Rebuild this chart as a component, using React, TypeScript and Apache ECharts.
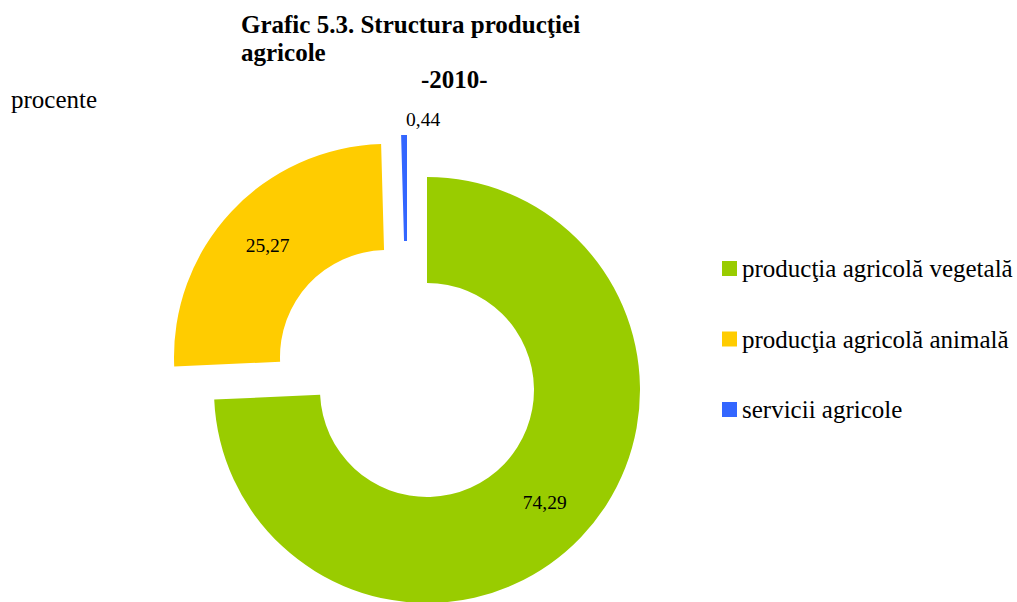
import React, { useEffect, useRef } from "react";
import * as echarts from "echarts";

const categories = ["producţia agricolă vegetală", "producţia agricolă animală", "servicii agricole"];
const values = [74.29, 25.27, 0.44];
const colors = ["#99CC00", "#FFCC00", "#3366FF"];
const titleLines = ["Grafic 5.3. Structura producţiei", "agricole"];
const yearLabel = "-2010-";
const unitLabel = "procente";

const fmt = (v: number) => v.toFixed(2).replace(".", ",");
const FONT = "'Liberation Serif', 'Times New Roman', serif";

// each slice is drawn by its own series so it can be exploded independently
const centers: [number, number][] = [
  [427, 390],
  [387, 357],
  [407, 348],
];

export default function App() {
  const ref = useRef<HTMLDivElement>(null);
  useEffect(() => {
    if (!ref.current) return;
    const chart = echarts.init(ref.current, undefined, { renderer: "svg" });
    const series = centers.map((c, i) => ({
      type: "pie",
      center: c,
      radius: [107, 213],
      startAngle: 90,
      clockwise: true,
      silent: true,
      avoidLabelOverlap: false,
      labelLine: { show: false },
      emphasis: { disabled: true },
      label: {
        position: "inside",
        fontFamily: FONT,
        fontSize: 19.5,
        color: "#000",
      },
      data: categories.map((name, j) => ({
        name,
        value: values[j],
        itemStyle: { color: j === i ? colors[j] : "transparent", borderWidth: 0 },
        label: {
          show: j === i && i < 2,
          formatter: () => fmt(values[j]),
        },
      })),
    }));
    chart.setOption({
      animation: false,
      backgroundColor: "#fff",
      textStyle: { fontFamily: FONT },
      title: [
        {
          text: titleLines.join("\n"),
          left: 241,
          top: 10,
          padding: 0,
          textStyle: { fontFamily: FONT, fontSize: 25, fontWeight: "bold", color: "#000", lineHeight: 28 },
        },
        {
          text: yearLabel,
          left: 421,
          top: 67,
          padding: 0,
          textStyle: { fontFamily: FONT, fontSize: 25, fontWeight: "bold", color: "#000", lineHeight: 25 },
        },
        {
          text: unitLabel,
          left: 11,
          top: 87,
          padding: 0,
          textStyle: { fontFamily: FONT, fontSize: 25, fontWeight: "normal", color: "#000", lineHeight: 25 },
        },
      ],
      legend: {
        orient: "vertical",
        left: 722,
        top: 256,
        itemWidth: 15,
        itemHeight: 15,
        itemGap: 45.5,
        icon: "rect",
        padding: 0,
        textStyle: { fontFamily: FONT, fontSize: 25, color: "#000", lineHeight: 25 },
        data: categories.map((name, j) => ({
          name,
          itemStyle: { color: colors[j] },
          textStyle: { fontFamily: FONT, fontSize: 25, color: "#000", lineHeight: 25 },
        })),
      },
      graphic: [
        {
          type: "text",
          left: 406,
          top: 109,
          style: { text: fmt(values[2]), fontFamily: FONT, fontSize: 19.5, fill: "#000" },
        },
      ],
      series,
    });
    return () => chart.dispose();
  }, []);
  return (
    <div
      ref={ref}
      style={{ position: "fixed", left: 0, top: 0, width: 1017, height: 602, background: "#fff" }}
    />
  );
}
